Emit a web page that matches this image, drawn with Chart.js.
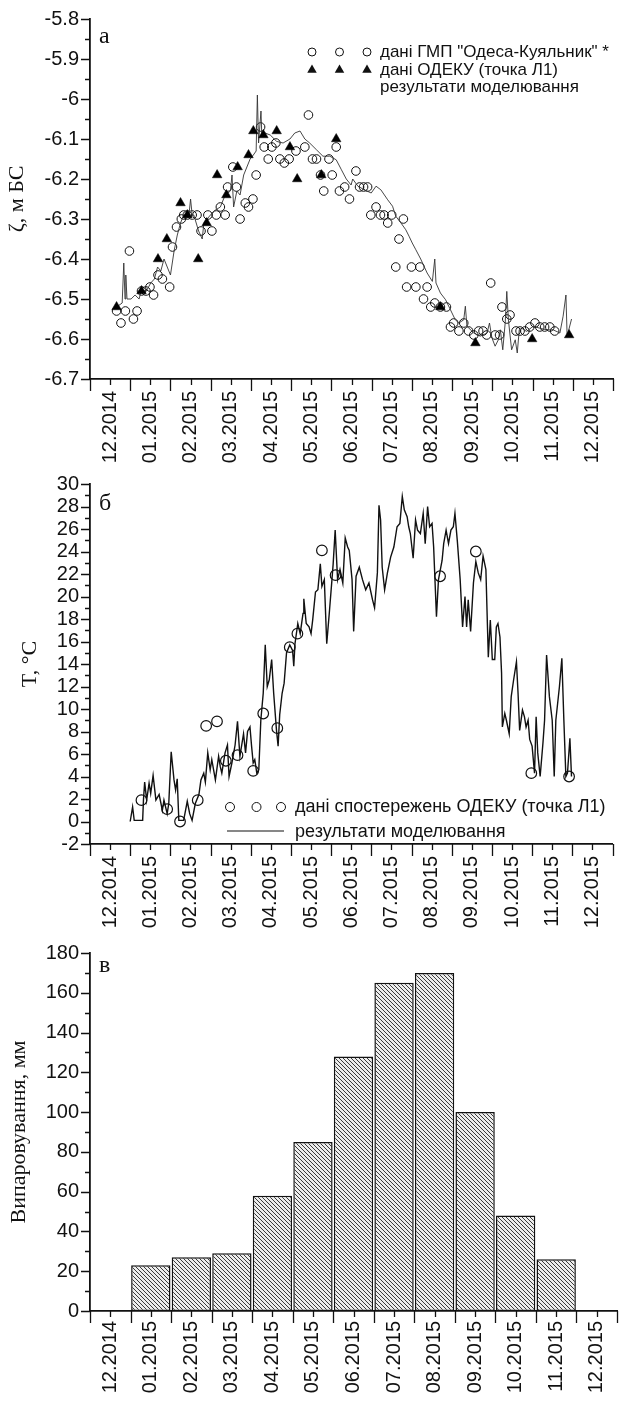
<!DOCTYPE html>
<html>
<head>
<meta charset="utf-8">
<script src="https://cdn.jsdelivr.net/npm/chart.js@4.4.1/dist/chart.umd.min.js"></script>
<style>
body { margin: 0; background: #fff; width: 619px; height: 1405px; position: relative; overflow: hidden; }
.panel { position: absolute; left: 0; width: 619px; }
</style>
</head>
<body>
<div class="panel" style="top:0;height:480px"><canvas id="chartLevel"></canvas></div>
<div class="panel" style="top:470px;height:480px"><canvas id="chartTemp"></canvas></div>
<div class="panel" style="top:935px;height:470px"><canvas id="chartEvap"></canvas></div>
<script>
// x positions are in months counted from the "12.2014" label
const monthLabels = ['12.2014', '01.2015', '02.2015', '03.2015', '04.2015', '05.2015', '06.2015',
    '07.2015', '08.2015', '09.2015', '10.2015', '11.2015', '12.2015']

const levelTicks = [-6.7, -6.6, -6.5, -6.4, -6.3, -6.2, -6.1, -6, -5.9, -5.8]
const tempTicks = [-2, 0, 2, 4, 6, 8, 10, 12, 14, 16, 18, 20, 22, 24, 26, 28, 30]
const evapTicks = [0, 20, 40, 60, 80, 100, 120, 140, 160, 180]

// panel a: sea level, m BS
const levelGmp = [[0.16,-6.53],[0.27,-6.56],[0.38,-6.53],[0.48,-6.38],[0.58,-6.55],[0.67,-6.53],[0.78,-6.48],
    [0.89,-6.48],[0.99,-6.47],[1.08,-6.49],[1.19,-6.44],[1.30,-6.45],[1.48,-6.47],[1.55,-6.37],[1.65,-6.32],
    [1.77,-6.30],[1.83,-6.29],[1.92,-6.29],[2.04,-6.29],[2.16,-6.29],[2.26,-6.33],[2.43,-6.29],[2.53,-6.33],
    [2.64,-6.29],[2.74,-6.27],[2.86,-6.29],[2.92,-6.22],[3.05,-6.17],[3.14,-6.22],[3.23,-6.30],[3.36,-6.26],
    [3.44,-6.27],[3.55,-6.25],[3.63,-6.19],[3.74,-6.07],[3.83,-6.12],[3.93,-6.15],[4.02,-6.12],[4.12,-6.11],
    [4.22,-6.15],[4.33,-6.16],[4.45,-6.15],[4.62,-6.13],[4.84,-6.12],[4.93,-6.04],[5.03,-6.15],[5.13,-6.15],
    [5.23,-6.19],[5.31,-6.23],[5.44,-6.15],[5.52,-6.19],[5.62,-6.12],[5.70,-6.23],[5.83,-6.22],[5.95,-6.25],
    [6.11,-6.18],[6.20,-6.22],[6.30,-6.22],[6.40,-6.22],[6.48,-6.29],[6.61,-6.27],[6.72,-6.29],[6.81,-6.29],
    [6.90,-6.31],[7.00,-6.29],[7.10,-6.42],[7.18,-6.35],[7.29,-6.30],[7.37,-6.47],[7.49,-6.42],[7.60,-6.47],
    [7.70,-6.42],[7.79,-6.50],[7.88,-6.47],[7.97,-6.52],[8.07,-6.51],[8.21,-6.52],[8.36,-6.52],[8.46,-6.57],
    [8.54,-6.56],[8.67,-6.58],[8.79,-6.56],[8.91,-6.58],[9.04,-6.59],[9.16,-6.58],[9.27,-6.58],[9.36,-6.59],
    [9.46,-6.46],[9.57,-6.59],[9.68,-6.59],[9.74,-6.52],[9.86,-6.55],[9.94,-6.54],[10.09,-6.58],[10.19,-6.58],
    [10.31,-6.58],[10.43,-6.57],[10.56,-6.56],[10.68,-6.57],[10.80,-6.57],[10.93,-6.57],[11.05,-6.58]]

const levelOdeku = [[0.16,-6.52],[0.78,-6.48],[1.19,-6.40],[1.41,-6.35],[1.75,-6.26],[1.92,-6.29],[2.19,-6.40],
    [2.40,-6.31],[2.66,-6.19],[2.89,-6.24],[3.17,-6.17],[3.44,-6.14],[3.56,-6.08],[3.81,-6.09],[4.14,-6.08],
    [4.47,-6.12],[4.65,-6.20],[5.25,-6.19],[5.62,-6.10],[8.21,-6.52],[9.08,-6.61],[10.49,-6.60],[11.41,-6.59]]

const levelModel = [[0.16,-6.52],[0.30,-6.51],[0.34,-6.41],[0.37,-6.50],[0.39,-6.44],[0.42,-6.50],[0.52,-6.50],
    [0.62,-6.49],[0.72,-6.50],[0.77,-6.48],[0.90,-6.48],[1.01,-6.46],[1.10,-6.45],[1.18,-6.42],[1.26,-6.43],
    [1.34,-6.40],[1.42,-6.42],[1.50,-6.44],[1.59,-6.38],[1.67,-6.34],[1.75,-6.31],[1.83,-6.29],[1.96,-6.29],
    [2.00,-6.25],[2.04,-6.29],[2.08,-6.29],[2.20,-6.33],[2.29,-6.35],[2.33,-6.31],[2.41,-6.30],[2.58,-6.28],
    [2.74,-6.27],[2.86,-6.24],[2.99,-6.23],[3.03,-6.19],[3.07,-6.27],[3.15,-6.23],[3.23,-6.24],[3.32,-6.19],
    [3.40,-6.17],[3.48,-6.15],[3.56,-6.14],[3.63,-6.13],[3.66,-5.99],[3.69,-6.11],[3.75,-6.03],[3.77,-6.09],
    [3.85,-6.085],[3.98,-6.09],[4.14,-6.106],[4.30,-6.11],[4.47,-6.10],[4.59,-6.085],[4.72,-6.08],[4.84,-6.10],
    [4.96,-6.11],[5.13,-6.127],[5.29,-6.143],[5.46,-6.143],[5.62,-6.152],[5.75,-6.177],[5.87,-6.20],[5.99,-6.215],
    [6.03,-6.20],[6.16,-6.218],[6.32,-6.227],[6.49,-6.235],[6.61,-6.218],[6.73,-6.227],[6.90,-6.252],[7.02,-6.268],
    [7.10,-6.293],[7.23,-6.31],[7.35,-6.327],[7.43,-6.343],[7.51,-6.36],[7.60,-6.377],[7.72,-6.40],[7.88,-6.435],
    [8.01,-6.456],[8.07,-6.40],[8.10,-6.46],[8.21,-6.485],[8.34,-6.502],[8.46,-6.527],[8.58,-6.552],[8.67,-6.56],
    [8.79,-6.552],[8.83,-6.518],[8.87,-6.568],[9.04,-6.585],[9.20,-6.593],[9.37,-6.585],[9.43,-6.56],[9.49,-6.597],
    [9.57,-6.618],[9.65,-6.602],[9.70,-6.577],[9.76,-6.627],[9.82,-6.56],[9.86,-6.481],[9.90,-6.552],[9.98,-6.627],
    [10.07,-6.602],[10.12,-6.635],[10.17,-6.577],[10.23,-6.573],[10.35,-6.581],[10.52,-6.568],[10.68,-6.573],
    [10.85,-6.577],[11.01,-6.577],[11.18,-6.585],[11.26,-6.543],[11.33,-6.49],[11.36,-6.593],[11.47,-6.55]]

// panel b: water temperature, °C
const tempOdeku = [[0.78,1.9],[1.42,1.1],[1.74,0.0],[2.18,1.9],[2.39,8.5],[2.66,8.9],[2.88,5.4],[3.17,5.9],
    [3.56,4.5],[3.81,9.6],[4.16,8.3],[4.47,15.5],[4.66,16.7],[5.27,24.1],[5.61,21.9],[8.21,21.8],[9.10,24.0],
    [10.48,4.3],[11.42,4.0]]

const tempModel = [[0.50,0],[0.56,1.3],[0.60,0.1],[0.81,0.1],[0.83,1.9],[0.86,3.5],[0.91,1.9],[0.97,3.4],
    [1.01,2.5],[1.07,4.1],[1.14,1.9],[1.22,2.4],[1.30,1.0],[1.34,1.9],[1.42,0.7],[1.46,1.6],[1.52,6.2],[1.59,3.7],
    [1.63,2.8],[1.67,3.8],[1.71,0.1],[1.83,0.1],[1.92,1.8],[1.98,0.7],[2.04,0.1],[2.12,1.6],[2.21,2.4],[2.26,3.7],
    [2.33,4.3],[2.37,3.5],[2.43,6.1],[2.49,4.6],[2.53,5.5],[2.62,3.7],[2.70,5.8],[2.74,4.9],[2.78,4.3],[2.86,6.1],
    [2.92,6.8],[2.96,4.0],[3.03,5.2],[3.11,6.8],[3.17,8.9],[3.23,5.8],[3.32,7.8],[3.37,6.1],[3.42,8.0],[3.48,8.4],
    [3.52,6.7],[3.56,5.2],[3.60,5.5],[3.65,4.3],[3.70,4.6],[3.75,9.0],[3.81,11.4],[3.86,15.7],[3.91,12.0],
    [3.96,12.6],[4.02,14.4],[4.07,11.4],[4.14,8.1],[4.18,6.7],[4.22,9.5],[4.28,11.4],[4.33,12.3],[4.39,15.0],
    [4.47,15.7],[4.54,15.2],[4.57,13.8],[4.60,15.8],[4.67,17.6],[4.73,16.7],[4.80,18.5],[4.82,19.8],[4.88,17.6],
    [4.95,17.3],[5.00,16.7],[5.04,17.9],[5.11,20.4],[5.17,20.6],[5.23,22.9],[5.27,20.9],[5.33,21.5],[5.39,15.8],
    [5.46,18.8],[5.52,21.5],[5.55,22.9],[5.60,25.9],[5.66,21.5],[5.72,22.4],[5.79,21.2],[5.85,25.2],[5.91,24.4],
    [5.95,24.1],[6.02,21.5],[6.06,16.9],[6.12,21.8],[6.20,22.6],[6.28,21.5],[6.36,20.6],[6.44,21.2],[6.53,19.7],
    [6.58,19.0],[6.65,22.1],[6.69,28.1],[6.73,26.8],[6.77,22.6],[6.83,20.6],[6.90,22.1],[6.98,23.5],[7.06,24.4],
    [7.14,26.2],[7.21,26.5],[7.27,28.9],[7.32,27.7],[7.39,27.1],[7.43,26.2],[7.47,25.6],[7.54,23.4],[7.60,26.8],
    [7.65,25.9],[7.72,25.6],[7.79,27.4],[7.84,24.7],[7.90,28.0],[7.95,26.2],[8.01,26.5],[8.05,24.4],[8.12,18.2],
    [8.17,21.5],[8.26,23.2],[8.30,24.7],[8.36,25.9],[8.42,24.7],[8.48,25.9],[8.54,26.2],[8.58,27.4],[8.64,24.9],
    [8.71,21.5],[8.77,17.3],[8.83,20.0],[8.87,17.3],[8.91,19.7],[8.97,16.9],[9.04,21.2],[9.10,23.1],[9.16,22.1],
    [9.22,21.5],[9.28,23.6],[9.35,22.4],[9.41,14.6],[9.46,17.9],[9.51,14.4],[9.57,14.4],[9.61,17.3],[9.65,17.6],
    [9.70,16.4],[9.74,13.2],[9.76,8.4],[9.82,9.6],[9.86,9.0],[9.93,7.8],[9.98,11.1],[10.04,12.6],[10.11,14.2],
    [10.15,11.4],[10.19,8.1],[10.26,9.9],[10.31,9.3],[10.35,8.4],[10.40,9.0],[10.44,7.3],[10.50,6.7],[10.56,4.3],
    [10.60,9.3],[10.64,6.1],[10.70,4.0],[10.77,7.0],[10.81,9.0],[10.86,14.8],[10.93,11.1],[11.00,9.0],[11.05,4.0],
    [11.09,9.0],[11.18,12.0],[11.24,14.5],[11.29,9.0],[11.34,4.0],[11.38,4.3],[11.44,7.4],[11.48,4.0]]

// panel c: monthly evaporation, mm
const evapValues = [null, 23, 27, 29, 58, 85, 128, 165, 170, 100, 48, 26, null]

const SANS = "'Liberation Sans', Arial, sans-serif"
const SERIF = "'Liberation Serif', 'Times New Roman', serif"
const INK = '#111'

const toPoints = rows => rows.map(r => ({ x: r[0], y: r[1] }))

// hatched fill for the bars
const tile = document.createElement('canvas')
tile.width = 4
tile.height = 4
const tctx = tile.getContext('2d')
tctx.fillStyle = '#ededed'
tctx.fillRect(0, 0, 4, 4)
tctx.fillStyle = '#3c3c3c'
for (let i = 0; i < 4; i++) tctx.fillRect(i, i, 1, 1)
const hatch = tctx.createPattern(tile, 'repeat')

// outward tick marks: long at month edges, short at labels; minor ticks on y
const axisTicks = {
    id: 'axisTicks',
    afterDraw(chart, args, opts) {
        const { ctx, chartArea } = chart
        const xs = chart.scales.x
        const ys = chart.scales.y
        ctx.save()
        ctx.strokeStyle = INK
        ctx.lineWidth = 1.3
        ctx.beginPath()
        for (let i = 0; i <= monthLabels.length; i++) {
            const px = Math.round(xs.getPixelForValue(i - 0.5)) + 0.5
            ctx.moveTo(px, chartArea.bottom)
            ctx.lineTo(px, chartArea.bottom + 12)
        }
        for (let i = 0; i < monthLabels.length; i++) {
            const px = Math.round(xs.getPixelForValue(i)) + 0.5
            ctx.moveTo(px, chartArea.bottom)
            ctx.lineTo(px, chartArea.bottom + 6)
        }
        const n = Math.round((ys.max - ys.min) / opts.minor)
        for (let k = 0; k <= n; k++) {
            const py = Math.round(ys.getPixelForValue(ys.min + k * opts.minor)) + 0.5
            ctx.moveTo(chartArea.left, py)
            ctx.lineTo(chartArea.left - (k % 2 === 0 ? 9 : 5), py)
        }
        ctx.stroke()
        ctx.restore()
    }
}

function drawMark(ctx, kind, x, y, r) {
    ctx.beginPath()
    if (kind === 'circle') {
        ctx.arc(x, y, r, 0, Math.PI * 2)
        ctx.lineWidth = 1
        ctx.stroke()
    } else if (kind === 'triangle') {
        ctx.moveTo(x, y - r)
        ctx.lineTo(x + r * 0.866, y + r * 0.5)
        ctx.lineTo(x - r * 0.866, y + r * 0.5)
        ctx.closePath()
        ctx.fill()
    } else if (kind === 'line') {
        ctx.moveTo(x - r, y)
        ctx.lineTo(x + r, y)
        ctx.lineWidth = 1.2
        ctx.stroke()
    }
}

// Origin-style legend and panel letter
const panelNotes = {
    id: 'panelNotes',
    afterDraw(chart, args, opts) {
        const ctx = chart.ctx
        ctx.save()
        ctx.fillStyle = INK
        ctx.strokeStyle = INK
        ctx.font = '24px ' + SERIF
        ctx.textBaseline = 'alphabetic'
        ctx.fillText(opts.letter, chart.chartArea.left + 9, opts.letterY)
        ctx.font = opts.fontSize + 'px ' + SANS
        ctx.textBaseline = 'middle'
        for (const row of opts.rows) {
            for (const mx of row.marks || []) drawMark(ctx, row.kind, mx, row.y, row.size)
            ctx.fillText(row.text, opts.textX, row.y + (row.dy || 0))
        }
        ctx.restore()
    }
}

function monthAxis(type, xHeight, pad) {
    const axis = {
        type: type,
        afterFit: s => { s.height = xHeight; s.paddingLeft = 0; s.paddingRight = 0 },
        grid: { display: false, drawTicks: false, offset: true },
        border: { color: INK, width: 1.8 },
        ticks: {
            autoSkip: false, maxRotation: 90, minRotation: 90, padding: pad,
            color: INK, font: { family: SANS, size: 20 }
        }
    }
    if (type === 'linear') {
        axis.min = -0.5
        axis.max = 12.5
        axis.afterBuildTicks = s => { s.ticks = monthLabels.map((l, i) => ({ value: i })) }
        axis.ticks.callback = v => monthLabels[Math.round(v)]
    } else {
        axis.offset = true
    }
    return axis
}

function valueAxis(min, max, tickValues, title, titlePad) {
    return {
        type: 'linear', min: min, max: max,
        afterBuildTicks: s => { s.ticks = tickValues.map(v => ({ value: v })) },
        afterFit: s => { s.width = 90; s.paddingTop = 0; s.paddingBottom = 0 },
        grid: { display: false, drawTicks: false },
        border: { color: INK, width: 1.8 },
        ticks: {
            autoSkip: false, padding: 11, color: INK, font: { family: SANS, size: 20 },
            callback: v => String(Math.round(v * 10) / 10)
        },
        title: {
            display: true, text: title, color: INK,
            font: { family: SERIF, size: 22 }, padding: { top: titlePad, bottom: 0 }
        }
    }
}

function baseOptions(top, notes, minor) {
    return {
        responsive: true,
        maintainAspectRatio: false,
        animation: false,
        layout: { padding: { top: top, right: 2, left: 0, bottom: 0 } },
        plugins: {
            legend: { display: false },
            tooltip: { enabled: false },
            axisTicks: { minor: minor },
            panelNotes: notes
        }
    }
}

// panel a
const optionsLevel = baseOptions(19, {
    letter: 'а', letterY: 43, fontSize: 17, textX: 380,
    rows: [
        { kind: 'circle', marks: [312, 339.5, 367], size: 4, y: 52, text: 'дані ГМП "Одеса-Куяльник" *' },
        { kind: 'triangle', marks: [312, 339.5, 367], size: 5.5, y: 70, text: 'дані ОДЕКУ (точка Л1)' },
        { y: 87, text: 'результати моделювання' }
    ]
}, 0.05)
optionsLevel.scales = { x: monthAxis('linear', 101, 12), y: valueAxis(-6.7, -5.8, levelTicks, 'ζ, м БС', 4) }

new Chart(document.querySelector('#chartLevel'), {
    type: 'scatter',
    data: {
        datasets: [
            { data: toPoints(levelOdeku), pointStyle: 'triangle', pointRadius: 5.5, backgroundColor: '#000',
              borderColor: '#000', borderWidth: 0.5, order: 1 },
            { data: toPoints(levelModel), showLine: true, pointRadius: 0, borderColor: '#333',
              borderWidth: 0.9, order: 2 },
            { data: toPoints(levelGmp), pointStyle: 'circle', pointRadius: 4.3, backgroundColor: 'rgba(0,0,0,0)',
              borderColor: '#111', borderWidth: 1, order: 3 }
        ]
    },
    options: optionsLevel,
    plugins: [axisTicks, panelNotes]
})

// panel b
const optionsTemp = baseOptions(14, {
    letter: 'б', letterY: 40, fontSize: 18, textX: 295,
    rows: [
        { kind: 'circle', marks: [230, 256.5, 281], size: 4.5, y: 337, text: 'дані спостережень ОДЕКУ (точка Л1)' },
        { kind: 'line', marks: [255.5], size: 28.5, y: 361, text: 'результати моделювання', dy: 1 }
    ]
}, 1)
optionsTemp.scales = { x: monthAxis('linear', 106, 12), y: valueAxis(-2, 30, tempTicks, 'T, °C', 17) }

new Chart(document.querySelector('#chartTemp'), {
    type: 'scatter',
    data: {
        datasets: [
            { data: toPoints(tempOdeku), pointStyle: 'circle', pointRadius: 5.3, backgroundColor: 'rgba(0,0,0,0)',
              borderColor: '#111', borderWidth: 1.2, order: 1 },
            { data: toPoints(tempModel), showLine: true, pointRadius: 0, borderColor: '#111',
              borderWidth: 1.4, order: 2 }
        ]
    },
    options: optionsTemp,
    plugins: [axisTicks, panelNotes]
})

// panel c
const optionsEvap = baseOptions(18, { letter: 'в', letterY: 37, fontSize: 17, textX: 0, rows: [] }, 10)
optionsEvap.scales = { x: monthAxis('category', 94, 10), y: valueAxis(0, 180, evapTicks, 'Випаровування, мм', 6) }

new Chart(document.querySelector('#chartEvap'), {
    type: 'bar',
    data: {
        labels: monthLabels,
        datasets: [{
            data: evapValues,
            backgroundColor: hatch,
            borderColor: '#111',
            borderWidth: 1.5,
            borderSkipped: false,
            barPercentage: 0.97,
            categoryPercentage: 1
        }]
    },
    options: optionsEvap,
    plugins: [axisTicks, panelNotes]
})
</script>
</body>
</html>
